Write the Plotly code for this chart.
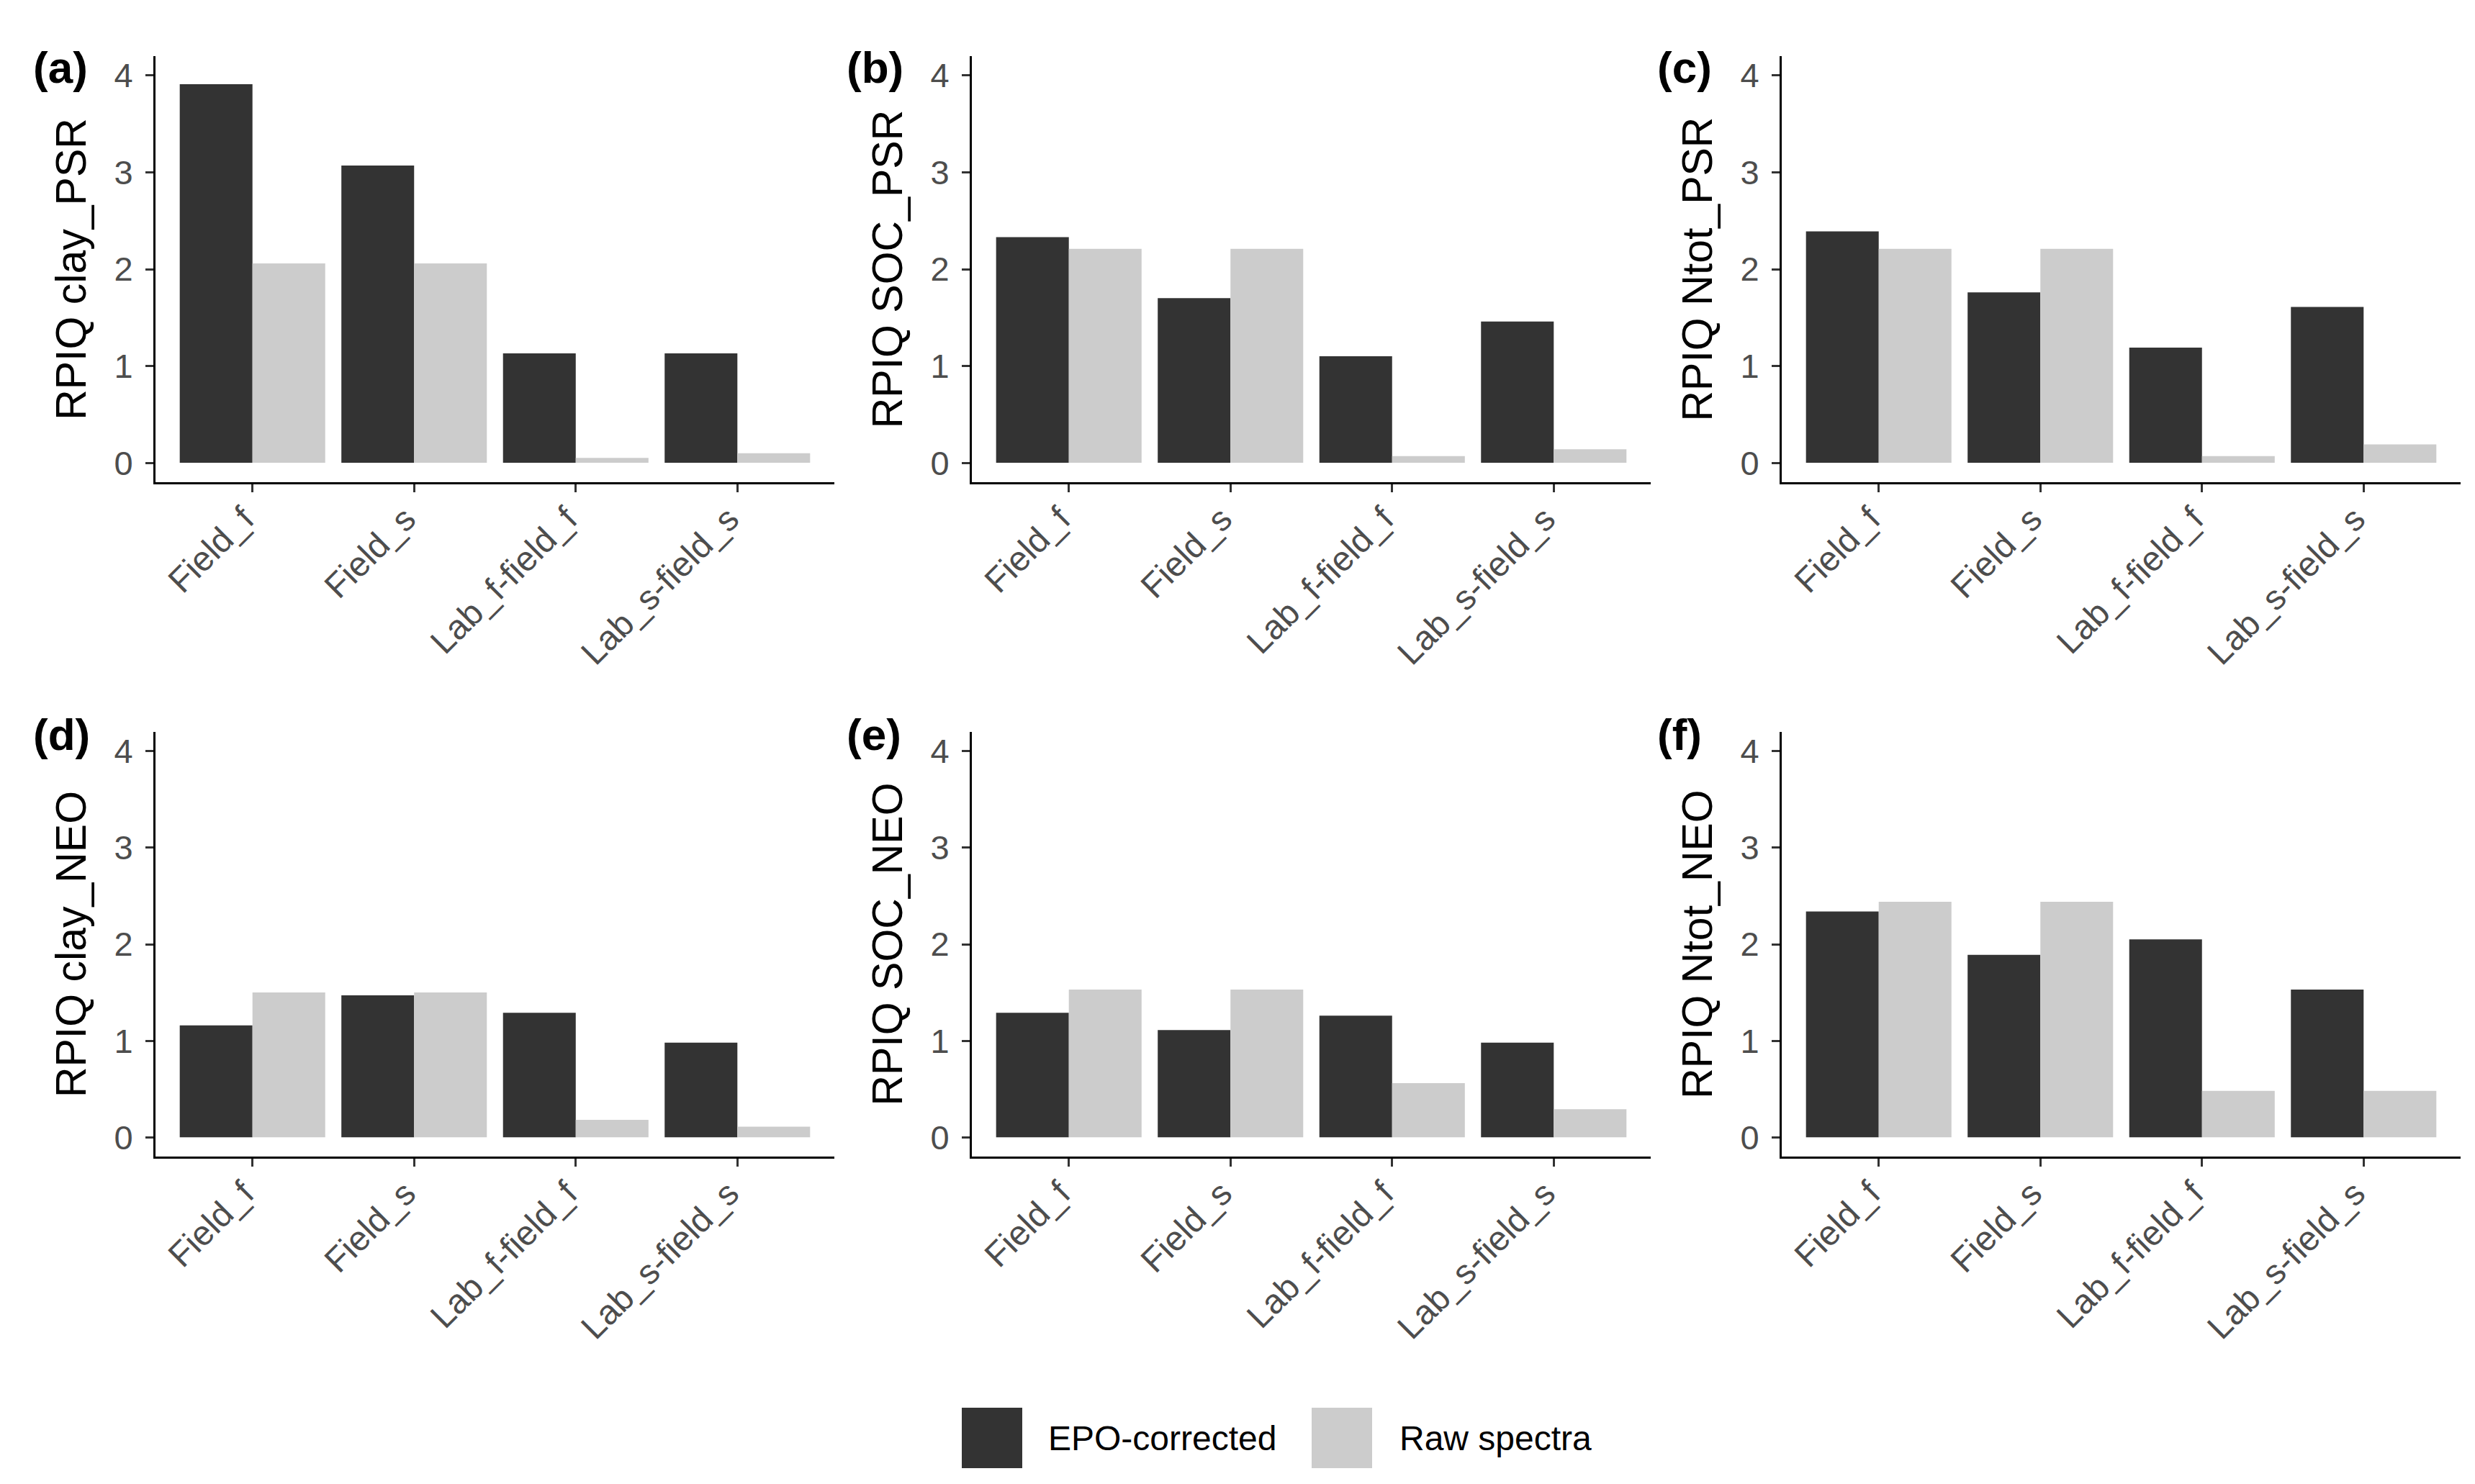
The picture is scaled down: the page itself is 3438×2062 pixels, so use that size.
import plotly.graph_objects as go

# ---- data ----
categories = ["Field_f", "Field_s", "Lab_f-field_f", "Lab_s-field_s"]

epo_clay_psr = [3.91, 3.07, 1.13, 1.13]
raw_clay_psr = [2.06, 2.06, 0.05, 0.10]
epo_soc_psr = [2.33, 1.70, 1.10, 1.46]
raw_soc_psr = [2.21, 2.21, 0.07, 0.14]
epo_ntot_psr = [2.39, 1.76, 1.19, 1.61]
raw_ntot_psr = [2.21, 2.21, 0.07, 0.19]
epo_clay_neo = [1.16, 1.47, 1.29, 0.98]
raw_clay_neo = [1.50, 1.50, 0.18, 0.11]
epo_soc_neo = [1.29, 1.11, 1.26, 0.98]
raw_soc_neo = [1.53, 1.53, 0.56, 0.29]
epo_ntot_neo = [2.34, 1.89, 2.05, 1.53]
raw_ntot_neo = [2.44, 2.44, 0.48, 0.48]

panel_titles = ["RPIQ clay_PSR", "RPIQ SOC_PSR", "RPIQ Ntot_PSR",
                "RPIQ clay_NEO", "RPIQ SOC_NEO", "RPIQ Ntot_NEO"]
panel_tags = ["(a)", "(b)", "(c)", "(d)", "(e)", "(f)"]
series_names = ["EPO-corrected", "Raw spectra"]
y_ticks = [0, 1, 2, 3, 4]

panels = [(epo_clay_psr, raw_clay_psr), (epo_soc_psr, raw_soc_psr),
          (epo_ntot_psr, raw_ntot_psr), (epo_clay_neo, raw_clay_neo),
          (epo_soc_neo, raw_soc_neo), (epo_ntot_neo, raw_ntot_neo)]

# ---- style ----
W, H = 3438, 2062
FONT = "Liberation Sans"
DARK = "#333333"
LIGHT = "#CCCCCC"
TICK_COL = "#4D4D4D"

x_dom_px = [(208, 1151), (1342, 2285), (2467, 3410)]
y_dom_px = [(70, 662), (1009, 1599)]
tag_x_px = [36, 1166, 2292]
tag_y_px = [86, 1012]

fig = go.Figure()
layout = {}
annotations = []
for i, (epo, raw) in enumerate(panels):
    r, c = divmod(i, 3)
    n = i + 1
    xa = "x" if n == 1 else f"x{n}"
    ya = "y" if n == 1 else f"y{n}"
    fig.add_trace(go.Bar(x=categories, y=epo, name=series_names[0],
                         marker=dict(color=DARK, line=dict(width=0)),
                         xaxis=xa, yaxis=ya, showlegend=False))
    fig.add_trace(go.Bar(x=categories, y=raw, name=series_names[1],
                         marker=dict(color=LIGHT, line=dict(width=0)),
                         xaxis=xa, yaxis=ya, showlegend=False))
    x0, x1 = x_dom_px[c]
    yt, yb = y_dom_px[r]
    layout[f"xaxis{'' if n == 1 else n}"] = dict(
        domain=[x0 / W, x1 / W], anchor=ya, type="category",
        range=[-0.6, 3.6], showgrid=False, zeroline=False,
        showline=True, linecolor="black", linewidth=3,
        ticks="outside", ticklen=11, tickwidth=3, tickcolor=DARK,
        tickangle=-45, ticklabelstandoff=-10, ticklabelshift=-12,
        tickfont=dict(family=FONT, size=48, color=TICK_COL),
    )
    layout[f"yaxis{'' if n == 1 else n}"] = dict(
        domain=[1 - yb / H, 1 - yt / H], anchor=xa,
        range=[-0.2, 4.2], tickvals=y_ticks, showgrid=False, zeroline=False,
        showline=True, linecolor="black", linewidth=3,
        ticks="outside", ticklen=11, tickwidth=3, tickcolor=DARK,
        ticklabelstandoff=8,
        tickfont=dict(family=FONT, size=47, color=TICK_COL),
        title=dict(text=panel_titles[i], standoff=20,
                   font=dict(family=FONT, size=59, color="black")),
    )
    annotations.append(dict(
        text=f"<b>{panel_tags[i]}</b>", xref="paper", yref="paper",
        x=tag_x_px[c] / W, y=1 - tag_y_px[r] / H, xanchor="left",
        yanchor="middle", showarrow=False,
        font=dict(family=FONT, size=62, color="black")))

# legend (drawn at the bottom centre)
legend_keys = [(1328, 1412, DARK), (1814, 1898, LIGHT)]
legend_text_x = [1446, 1934]
shapes = []
for (k0, k1, col), tx, name in zip(legend_keys, legend_text_x, series_names):
    shapes.append(dict(type="rect", xref="paper", yref="paper",
                       x0=k0 / W, x1=k1 / W, y0=1 - 2032 / H, y1=1 - 1948 / H,
                       fillcolor=col, line=dict(width=0)))
    annotations.append(dict(text=name, xref="paper", yref="paper",
                            x=tx / W, y=1 - 1990 / H, xanchor="left",
                            yanchor="middle", showarrow=False,
                            font=dict(family=FONT, size=48, color="black")))

fig.update_layout(**layout)
fig.update_layout(
    width=W, height=H, margin=dict(l=0, r=0, t=0, b=0),
    barmode="group", bargap=0.1, bargroupgap=0,
    plot_bgcolor="white", paper_bgcolor="white",
    font=dict(family=FONT, color="black"),
    annotations=annotations, shapes=shapes, showlegend=False,
)

fig.write_html("out.html")
